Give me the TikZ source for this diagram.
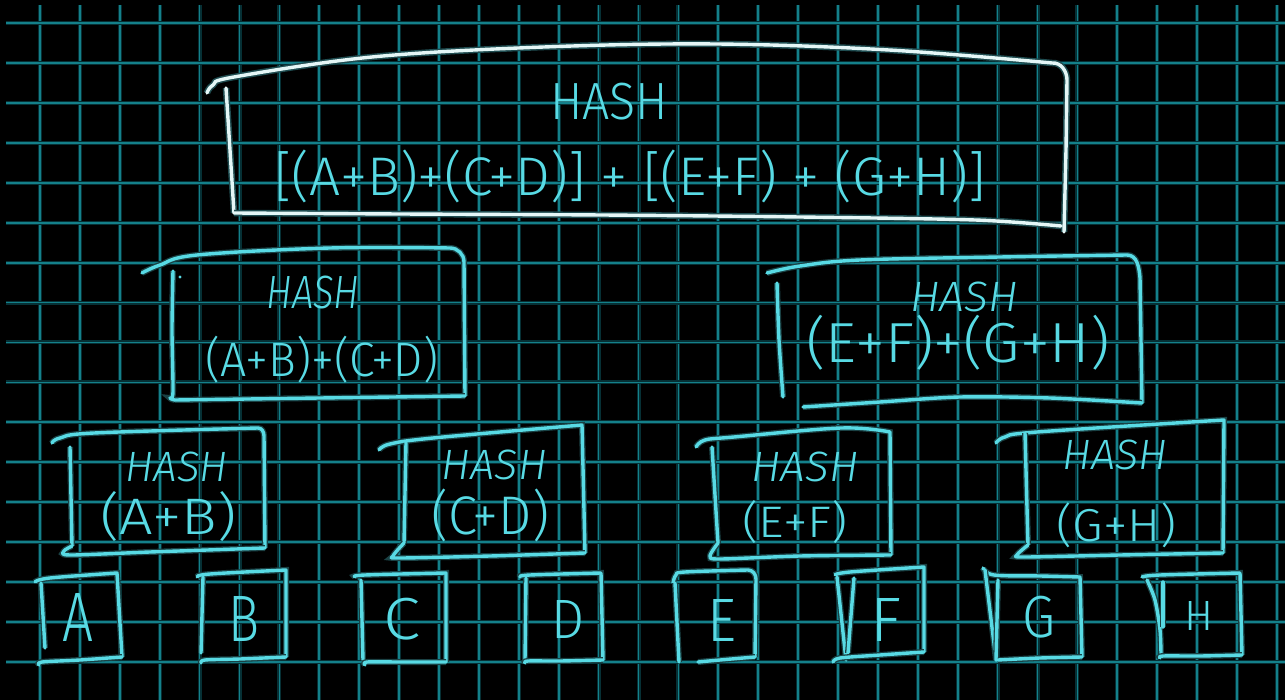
\documentclass[tikz,border=0pt]{standalone}
\usepackage{fontspec}
\usepackage{graphicx}
\newfontfamily\hand{Fira Sans}[UprightFont=* Light, ItalicFont=* Light Italic]
\definecolor{gridc}{RGB}{20,128,138}
\definecolor{gridglow}{RGB}{6,48,53}
\definecolor{inkc}{RGB}{88,218,228}
\definecolor{whitec}{RGB}{228,246,246}
\newcommand\hw[3]{\resizebox*{#1pt}{#2pt}{\hand #3}}
\tikzset{
  gridl/.style={draw=gridc, line width=1.7, preaction={draw=gridglow, line width=4}},
  ink/.style={draw=inkc, line width=3.4, line cap=round, line join=round,
              preaction={draw=inkc!30!black, line width=6}},
  wink/.style={draw=whitec, line width=3.4, line cap=round, line join=round,
              preaction={draw=inkc!35!black, line width=6.5}},
  lbl/.style={inner sep=0pt, text=inkc},
}
\begin{document}
\begin{tikzpicture}[x=1pt,y=-1pt]
\useasboundingbox (0,0) rectangle (1285,700);
\fill[black] (0,0) rectangle (1285,700);
% grid
\foreach \k in {0,...,31} {
  \draw[gridl] ({40+39.9*\k},5) -- ({40+39.9*\k},700);
}
\foreach \k in {0,...,16} {
  \draw[gridl] (6,{23.3+39.9*\k}) -- (1285,{23.3+39.9*\k});
}

% ---------- top box (white) ----------
\draw[wink] plot[smooth, tension=0.6] coordinates {(207,93) (213,85) (234,77) (372,57) (544,47) (716,44) (889,50) (1052,63)} to[out=5,in=90] (1067,80) -- (1066,150) -- (1064,232);
\draw[wink] plot[smooth] coordinates {(226,88) (230,150) (234,213)};
\draw[wink] plot[smooth] coordinates {(234,213) (400,214) (602,215) (800,217) (975,220) (1061,226)};
\node[lbl] (thash) at (609,101.7) {\hw{118}{37}{HASH}};
\node[lbl] (tform) at (630,176.7) {\hw{711}{53}{[(A+B)+(C+D)] + [(E+F) + (G+H)]}};

% ---------- middle left ----------
\draw[ink] plot[smooth, tension=0.6] coordinates {(142,273) (160,265) (197,255) (330,248) (450,248)} to[out=0,in=90] (464,262) -- (465,396);
\draw[ink] plot[smooth] coordinates {(173,271) (172,330) (173,392) (170,398) (175,400)};
\draw[ink] plot[smooth] coordinates {(175,400) (320,398) (465,396)};
\fill[inkc] (180,277) circle (1.6);
\node[lbl] (lhash) at (313,293) {\hw{93}{33}{\itshape HASH}};
\node[lbl] (lform) at (321.7,360) {\hw{233}{47}{(A+B)+(C+D)}};

% ---------- middle right ----------
\draw[ink] plot[smooth, tension=0.6] coordinates {(767,273) (800,266) (860,260) (1000,257) (1127,255)} to[out=0,in=95] (1140,278) -- (1142,403);
\draw[ink] plot[smooth] coordinates {(777,283) (779,340) (783,397)};
\draw[ink] plot[smooth] coordinates {(803,407) (880,402) (960,397) (1050,398) (1142,403)};
\node[lbl] (rhash) at (964,296.7) {\hw{108}{30}{\itshape HASH}};
\node[lbl] (rform) at (958,342.5) {\hw{303}{55}{(E+F)+(G+H)}};

% ---------- lower row ----------
% A+B
\draw[ink] plot[smooth, tension=0.6] coordinates {(52,443) (60,438) (94,433) (258,428)} to[out=0,in=90] (264,436) -- (265,548);
\draw[ink] (70,447) -- (72,546);
\draw[ink] plot[smooth] coordinates {(72,546) (64,551) (70,555) (150,552) (265,548)};
\node[lbl] (abhash) at (176.6,466.7) {\hw{102}{30}{\itshape HASH}};
\node[lbl] (abform) at (168.5,516.7) {\hw{136}{50}{(A+B)}};
% C+D
\draw[ink] plot[smooth, tension=0.6] coordinates {(379,450) (390,444) (433,438) (582,425)} -- (585,553);
\draw[ink] (406,443) -- (404,543);
\draw[ink] plot[smooth] coordinates {(404,543) (393,556) (400,558) (490,556) (585,553)};
\node[lbl] (cdhash) at (494.4,465) {\hw{105}{30}{\itshape HASH}};
\node[lbl] (cdform) at (490,515) {\hw{118}{53}{(C+D)}};
% E+F
\draw[ink] plot[smooth, tension=0.6] coordinates {(696,447) (705,440) (734,437) (841,428) (890,432)} -- (891,555);
\draw[ink] (712,447) -- (718,543);
\draw[ink] plot[smooth] coordinates {(718,543) (710,556) (720,559) (800,556) (891,555)};
\node[lbl] (efhash) at (805,466.7) {\hw{107}{30}{\itshape HASH}};
\node[lbl] (efform) at (795,521.7) {\hw{105}{43}{(E+F)}};
% G+H
\draw[ink] plot[smooth, tension=0.6] coordinates {(996,443) (1005,437) (1037,432) (1224,420)} -- (1223,553);
\draw[ink] (1025,433) -- (1028,545);
\draw[ink] plot[smooth] coordinates {(1028,545) (1017,555) (1025,557) (1120,555) (1223,553)};
\node[lbl] (ghhash) at (1114.8,455) {\hw{105}{30}{\itshape HASH}};
\node[lbl] (ghform) at (1116.6,525.8) {\hw{120}{45}{(G+H)}};

% ---------- leaves ----------
% A
\draw[ink] plot[smooth, tension=0.6] coordinates {(35,582) (50,578) (117,573)} -- (122,657);
\draw[ink] (41,583) -- (45,648);
\draw[ink] plot[smooth] coordinates {(39,665) (42,662) (80,660) (122,657)};
\node[lbl] (la) at (77.7,617) {\hw{31}{48}{A}};
% B
\draw[ink] plot[smooth, tension=0.6] coordinates {(197,577) (210,574) (286,570)} -- (286,657);
\draw[ink] (203,577) -- (201,653);
\draw[ink] plot[smooth] coordinates {(201,663) (205,660) (240,659) (286,657)};
\node[lbl] (lb) at (243.7,619) {\hw{31}{45}{B}};
% C
\draw[ink] plot[smooth, tension=0.6] coordinates {(355,577) (365,575) (446,573)} -- (446,662);
\draw[ink] (361,580) -- (363,660);
\draw[ink] plot[smooth] coordinates {(365,665) (367,662) (400,662) (446,662)};
\node[lbl] (lc) at (402,619) {\hw{37}{42}{C}};
% D
\draw[ink] plot[smooth, tension=0.6] coordinates {(520,577) (530,575) (601,573)} -- (603,660);
\draw[ink] (526,578) -- (525,660);
\draw[ink] plot[smooth] coordinates {(525,663) (528,661) (560,661) (603,660)};
\node[lbl] (ld) at (568,619) {\hw{33}{38}{D}};
% E
\draw[ink] plot[smooth, tension=0.6] coordinates {(673,583) (676,575) (685,572) (748,570)} to[out=0,in=90] (756,579) -- (755,657);
\draw[ink] (675,583) -- (679,662);
\draw[ink] plot[smooth] coordinates {(698,662) (720,660) (755,657)};
\node[lbl] (le) at (722.3,620.8) {\hw{29}{42}{E}};
% F
\draw[ink] plot[smooth, tension=0.6] coordinates {(835,575) (850,572) (924,567)} -- (924,652);
\draw[ink] (837,577) -- (846,660);
\draw[ink] (854,578) -- (848,653);
\draw[ink] plot[smooth] coordinates {(833,662) (840,658) (880,655) (924,652)};
\node[lbl] (lf) at (885.8,620) {\hw{31}{43}{F}};
% G
\draw[ink] plot[smooth, tension=0.6] coordinates {(983,568) (994,575) (1040,576) (1080,577)} -- (1082,657);
\draw[ink] (985,570) -- (996,660);
\draw[ink] (998,580) -- (996,660);
\draw[ink] plot[smooth] coordinates {(998,660) (1040,658) (1082,657)};
\node[lbl] (lg) at (1039,617.5) {\hw{33}{42}{G}};
% H
\draw[ink] plot[smooth, tension=0.6] coordinates {(1142,577) (1160,575) (1240,573)} -- (1242,655);
\draw[ink] plot[smooth] coordinates {(1147,580) (1155,600) (1160,630) (1161,655)};
\draw[ink] (1163,582) -- (1163,627);
\draw[ink] plot[smooth] coordinates {(1160,658) (1163,656) (1200,656) (1242,655)};
\node[lbl] (lh) at (1199.4,616) {\hw{29}{29}{H}};
\end{tikzpicture}
\end{document}
